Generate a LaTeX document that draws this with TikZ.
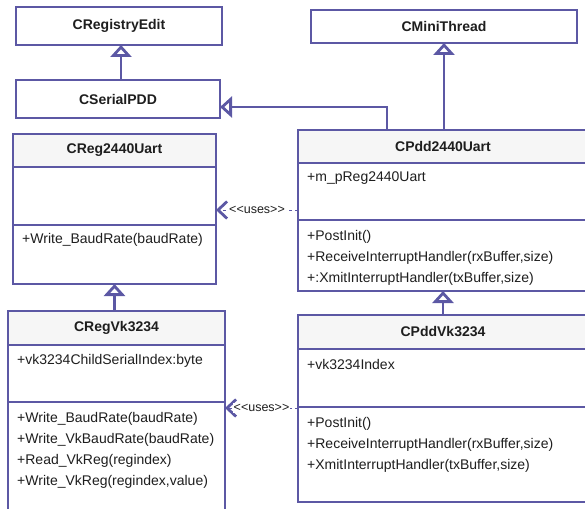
\documentclass[tikz,border=0pt]{standalone}
\usepackage{fontspec}
\setmainfont{Liberation Sans}
\usetikzlibrary{arrows.meta}
\usetikzlibrary{positioning, calc}
\definecolor{umlrand}{RGB}{92,88,164}
\definecolor{kopf}{RGB}{246,246,246}
\definecolor{schrift}{RGB}{30,30,30}

\tikzset{
    klasse/.style={draw=umlrand, line width=2.8pt, fill=white, rectangle, inner sep=0pt, outer sep=0pt},
    titel/.style={klasse, fill=kopf, font=\fontsize{14}{16}\selectfont\bfseries, text=schrift, anchor=north west},
    fach/.style={klasse, anchor=north},
    eintrag/.style={font=\fontsize{14}{21}\selectfont, text=schrift, align=left, anchor=north west, inner sep=0pt},
    erbt/.style={umlrand, line width=2.8pt, -{Triangle[open, width=21pt, length=12pt, line width=2.8pt]}},
    nutzt/.style={umlrand, line width=1pt, dashed, -{Straight Barb[length=9pt, width=17pt, line width=2.8pt]}},
    stereo/.style={fill=white, text=schrift, font=\fontsize{12.5}{14}\selectfont, inner sep=1pt},
}

\begin{document}
\begin{tikzpicture}[x=1pt, y=-1pt]

    \useasboundingbox (0,0) rectangle (585,508);

    % oben
    \node[titel, fill=white, minimum width=206pt, minimum height=38pt] (registry) at (16,7) {CRegistryEdit};
    \node[titel, fill=white, minimum width=204pt, minimum height=38pt] (serial) at (16,80) {CSerialPDD};
    \node[titel, fill=white, minimum width=266pt, minimum height=33pt] (minithread) at (311,10) {CMiniThread};

    % CReg2440Uart
    \node[titel, minimum width=203pt, minimum height=33pt] (reg2440) at (13,134) {CReg2440Uart};
    \node[fach, minimum width=203pt, minimum height=58pt, below=0pt of reg2440] (reg2440-attr) {};
    \node[fach, minimum width=203pt, minimum height=59pt, below=0pt of reg2440-attr] (reg2440-ops) {};
    \node[eintrag] (reg2440-m) at (22,233) {+Write\_BaudRate(baudRate)};

    % CPdd2440Uart
    \node[titel, minimum width=290pt, minimum height=33pt] (pdd2440) at (298,130) {CPdd2440Uart};
    \node[fach, minimum width=290pt, minimum height=57pt, below=0pt of pdd2440] (pdd2440-attr) {};
    \node[fach, minimum width=290pt, minimum height=71pt, below=0pt of pdd2440-attr] (pdd2440-ops) {};
    \node[eintrag] (pdd2440-a) at (307,172) {+m\_pReg2440Uart};
    \node[eintrag] (pdd2440-m) at (307,230) {+PostInit()\\+ReceiveInterruptHandler(rxBuffer,size)\\+:XmitInterruptHandler(txBuffer,size)};

    % CRegVk3234
    \node[titel, minimum width=217pt, minimum height=34pt] (regvk) at (8,311) {CRegVk3234};
    \node[fach, minimum width=217pt, minimum height=57pt, below=0pt of regvk] (regvk-attr) {};
    \node[fach, minimum width=217pt, minimum height=110pt, below=0pt of regvk-attr] (regvk-ops) {};
    \node[eintrag] (regvk-a) at (17,354) {+vk3234ChildSerialIndex:byte};
    \node[eintrag] (regvk-m) at (17,412) {+Write\_BaudRate(baudRate)\\+Write\_VkBaudRate(baudRate)\\+Read\_VkReg(regindex)\\+Write\_VkReg(regindex,value)};

    % CPddVk3234
    \node[titel, minimum width=290pt, minimum height=34pt] (pddvk) at (298,315) {CPddVk3234};
    \node[fach, minimum width=290pt, minimum height=58pt, below=0pt of pddvk] (pddvk-attr) {};
    \node[fach, minimum width=290pt, minimum height=95pt, below=0pt of pddvk-attr] (pddvk-ops) {};
    \node[eintrag] (pddvk-a) at (307,359) {+vk3234Index};
    \node[eintrag] (pddvk-m) at (307,417) {+PostInit()\\+ReceiveInterruptHandler(rxBuffer,size)\\+XmitInterruptHandler(txBuffer,size)};

    % Vererbung
    \draw[erbt] (serial.north -| 121,0) -- (registry.south -| 121,0);
    \draw[erbt] (pdd2440.north -| 387,0) |- (serial.east |- 0,107);
    \draw[erbt] (pdd2440.north -| minithread.south) -- (minithread.south);
    \draw[erbt] (regvk.north -| reg2440-ops.south) -- (reg2440-ops.south);
    \draw[erbt] (pddvk.north -| pdd2440-ops.south) -- (pdd2440-ops.south);

    % Benutzung
    \draw[nutzt] (pdd2440-attr.west |- 0,210) -- node[stereo] (uses1) {<{}<uses>{}>} (reg2440-attr.east |- 0,210);
    \draw[nutzt] (pddvk-ops.west |- 0,408) -- node[stereo] (uses2) {<{}<uses>{}>} (regvk-ops.east |- 0,408);

\end{tikzpicture}
\end{document}
